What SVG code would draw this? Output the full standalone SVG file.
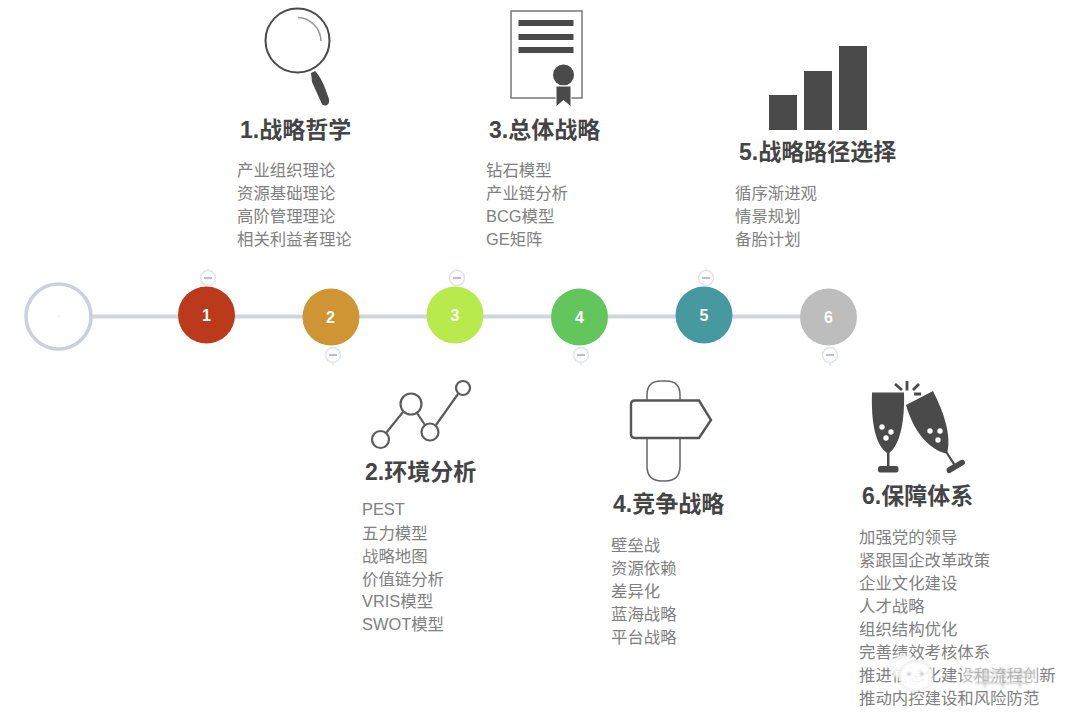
<svg xmlns="http://www.w3.org/2000/svg" width="1080" height="723" viewBox="0 0 1080 723">
<defs><filter id="blur" x="-10%" y="-30%" width="120%" height="160%"><feGaussianBlur stdDeviation="0.8"/></filter></defs>
<style>
text{font-family:"Liberation Sans","Noto Sans CJK SC",sans-serif}
.t{font-size:23px;font-weight:700;fill:#444}
.b{font-size:16.4px;fill:#808080}
.n{font-size:16px;font-weight:700;fill:#fff;text-anchor:middle}
.ln{fill:none;stroke:#cfd6df;stroke-width:4}
.cb{fill:#fff;stroke:#dfe3ee;stroke-width:1.5}
.cm{stroke:#a9afd6;stroke-width:1.6;fill:none}
.tick{stroke:#dfe3ee;stroke-width:1}
.ic{fill:#4a4a4a}
.ol{fill:none;stroke:#5c5c5c;stroke-width:2.200}
</style>
<rect width="1080" height="723" fill="#fff"/>
<g id="connectors">
<path class="ln" d="M92 316.500H800"/>
</g>
<g id="root"><circle cx="58.500" cy="316.500" r="32.500" fill="#fff" stroke="#c9d1dc" stroke-width="3.500"/><circle cx="59" cy="316.500" r="0.500" fill="#ccc"/></g>
<g id="node1">
<circle cx="206.500" cy="315" r="28.500" fill="#bb3a1b"/><text class="n" x="206.500" y="320.500">1</text>
<path class="tick" d="M208 268V270"/><circle class="cb" cx="208" cy="278" r="7.500"/><path class="cm" d="M204 278H212"/>
</g>
<g id="node2">
<circle cx="331" cy="317" r="28.500" fill="#cf9534"/><text class="n" x="330.500" y="322.500">2</text>
<path class="tick" d="M333 363V366"/><circle class="cb" cx="333" cy="355" r="7.500"/><path class="cm" d="M329 355H337"/>
</g>
<g id="node3">
<circle cx="455" cy="315" r="28.500" fill="#b9ea4d"/><text class="n" x="455" y="320.500">3</text>
<path class="tick" d="M457 268V270"/><circle class="cb" cx="457" cy="278" r="7.500"/><path class="cm" d="M453 278H461"/>
</g>
<g id="node4">
<circle cx="579.500" cy="317" r="28.500" fill="#62c65c"/><text class="n" x="579.500" y="322.500">4</text>
<path class="tick" d="M581 363V366"/><circle class="cb" cx="581" cy="355" r="7.500"/><path class="cm" d="M577 355H585"/>
</g>
<g id="node5">
<circle cx="704" cy="315" r="28.500" fill="#46999e"/><text class="n" x="704" y="320.500">5</text>
<path class="tick" d="M706 268V270"/><circle class="cb" cx="706" cy="278" r="7.500"/><path class="cm" d="M702 278H710"/>
</g>
<g id="node6">
<circle cx="828.500" cy="317" r="28.500" fill="#bdbdbd"/><text class="n" x="828.500" y="322.500">6</text>
<path class="tick" d="M830 363V366"/><circle class="cb" cx="830" cy="355" r="7.500"/><path class="cm" d="M826 355H834"/>
</g>
<g id="topic1">
<circle cx="297.500" cy="40.500" r="32" fill="#fff" stroke="#4a4a4a" stroke-width="2"/>
<path d="M298 17.500A24 24 0 0 1 321 41" fill="none" stroke="#999" stroke-width="1.600"/>
<path class="ic" d="M311 73L315 71C320 76 324 84 329 99Q330 104 326 105.500Q322 106 321 102L312 82Z"/>
<text class="t" x="240" y="137.500">1.战略哲学</text>
<text class="b" x="237" y="176">产业组织理论</text>
<text class="b" x="237" y="199">资源基础理论</text>
<text class="b" x="237" y="222">高阶管理理论</text>
<text class="b" x="237" y="245">相关利益者理论</text>
</g>
<g id="topic2">
<g class="ol"><circle cx="380.500" cy="439.500" r="8.500"/><circle cx="411" cy="404" r="10.500"/><circle cx="430" cy="432" r="8.500"/><circle cx="463" cy="388" r="7"/><path d="M386 433L403 412M417 413L425 425M436 425L458 394"/></g>
<text class="t" x="365" y="479.500">2.环境分析</text>
<text class="b" x="362" y="515">PEST</text>
<text class="b" x="362" y="539">五力模型</text>
<text class="b" x="362" y="562">战略地图</text>
<text class="b" x="362" y="585">价值链分析</text>
<text class="b" x="362" y="607">VRIS模型</text>
<text class="b" x="362" y="630">SWOT模型</text>
</g>
<g id="topic3">
<rect x="511" y="11" width="71" height="87" fill="#fff" stroke="#777" stroke-width="1.500"/>
<path class="ic" d="M518.500 20H573.500V26H518.500ZM518.500 34H573.500V40H518.500ZM518.500 47H573.500V53H518.500Z"/>
<circle class="ic" cx="563.500" cy="75" r="10.500"/>
<path d="M556 86H571V107L563.500 100.500L556 107Z" class="ic" stroke="#fff" stroke-width="1"/>
<text class="t" x="489" y="137.500">3.总体战略</text>
<text class="b" x="486" y="176">钻石模型</text>
<text class="b" x="486" y="199">产业链分析</text>
<text class="b" x="486" y="222">BCG模型</text>
<text class="b" x="486" y="245">GE矩阵</text>
</g>
<g id="topic4">
<path d="M647 400V395Q647 381 661 381H666Q680 381 680 395V400M647 438V466Q647 481 662 481H665Q680 481 680 466V438" fill="none" stroke="#666" stroke-width="1.500"/>
<path d="M635 400.500H699L711 420L699 438H635Q631 438 631 434V404.500Q631 400.500 635 400.500Z" fill="#fff" stroke="#555" stroke-width="2.400"/>
<text class="t" x="613" y="512">4.竞争战略</text>
<text class="b" x="611" y="551">壁垒战</text>
<text class="b" x="611" y="574">资源依赖</text>
<text class="b" x="611" y="597">差异化</text>
<text class="b" x="611" y="620">蓝海战略</text>
<text class="b" x="611" y="643">平台战略</text>
</g>
<g id="topic5">
<path class="ic" d="M769 95H797V130H769ZM804 71H832V130H804ZM839 46H867V130H839Z"/>
<text class="t" x="739" y="159.500">5.战略路径选择</text>
<text class="b" x="735" y="199">循序渐进观</text>
<text class="b" x="735" y="222">情景规划</text>
<text class="b" x="735" y="245">备胎计划</text>
</g>
<g id="topic6">
<path class="ic" d="M872 392.500H904C905 425 899 445 889.500 453V466H896Q898.500 466 898.500 468.500V470Q898.500 472.500 896 472.500H880.500Q878 472.500 878 470V468.500Q878 466 880.500 466H887V453C876 445 871 425 872 392.500Z"/>
<path class="ic" d="M906 405L933 391C945 415 951 435 947.500 452L955 463.500L961 460Q963.500 459 964.500 461L965 462.500Q965.500 464 963.500 465L950 473Q948 474 947 472L946.500 470.500Q946 468.500 948 467.500L953 464.500L946 453.500C928 449 913 430 906 405Z"/>
<path d="M895 384L902 390M907 381V390.500M919 384L913 390M914 394H921" stroke="#4a4a4a" stroke-width="2.800" fill="none"/>
<g fill="#fff"><circle cx="882" cy="427" r="2.700"/><circle cx="891" cy="432" r="2.700"/><circle cx="886" cy="438" r="2.700"/><circle cx="930" cy="431" r="2.700"/><circle cx="940" cy="431" r="2.700"/><circle cx="938" cy="440" r="2.700"/></g>
<text class="t" x="862" y="504">6.保障体系</text>
<text class="b" x="859" y="543">加强党的领导</text>
<text class="b" x="859" y="566">紧跟国企改革政策</text>
<text class="b" x="859" y="589">企业文化建设</text>
<text class="b" x="859" y="612">人才战略</text>
<text class="b" x="859" y="635">组织结构优化</text>
<text class="b" x="859" y="658">完善绩效考核体系</text>
<text class="b" x="859" y="681">推进信息化建设和流程创新</text>
<text class="b" x="859" y="704">推动内控建设和风险防范</text>
</g>
<g id="watermark" filter="url(#blur)">
<ellipse cx="904" cy="667" rx="14" ry="12" fill="#fff" fill-opacity="0.85" stroke="#ddd"/>
<ellipse cx="916" cy="676" rx="17" ry="15" fill="#fff" fill-opacity="0.9" stroke="#ccc"/>
<path d="M908 690L906 696L914 691Z" fill="#fff"/>
<circle cx="909" cy="674" r="1.400" fill="#999"/><circle cx="922" cy="674" r="1.400" fill="#999"/>
<rect x="962" y="664" width="76" height="24" fill="#fff" fill-opacity="0.5"/>
<path d="M966 672H1035M972 677H1032M975 683H1030M985 668V688M1003 667V688M1020 668V688" stroke="#8c8c8c" stroke-opacity="0.6" stroke-width="1.400" fill="none"/>
</g>
</svg>
